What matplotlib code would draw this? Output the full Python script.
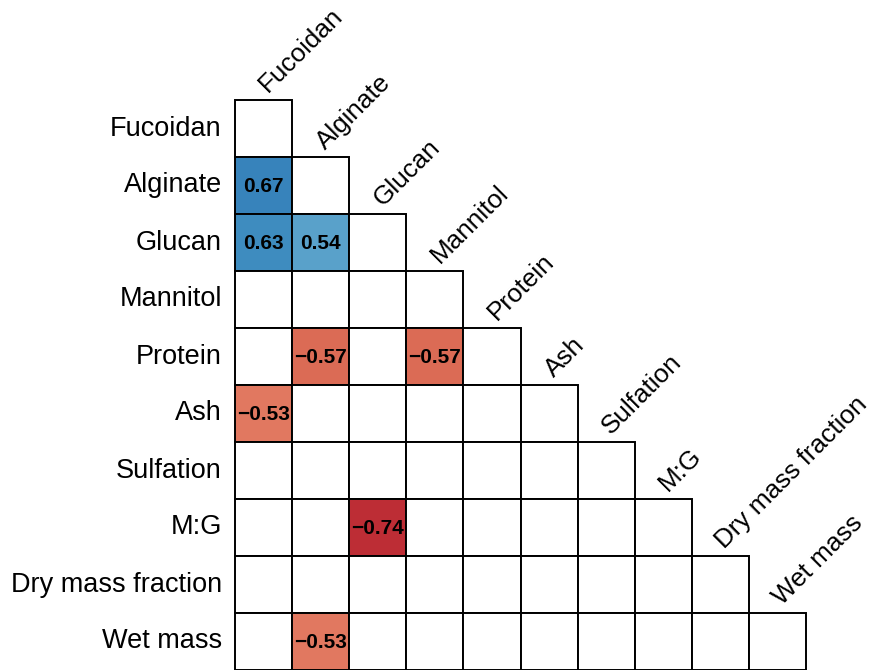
import numpy as np
import matplotlib.pyplot as plt
from matplotlib.colors import LinearSegmentedColormap, Normalize
from matplotlib.patches import Rectangle

variables = ['Fucoidan', 'Alginate', 'Glucan', 'Mannitol', 'Protein', 'Ash',
             'Sulfation', 'M:G', 'Dry mass fraction', 'Wet mass']

# significant correlations only (row variable, column variable, r)
sig_rows = ['Alginate', 'Glucan', 'Glucan', 'Protein', 'Protein', 'Ash', 'M:G', 'Wet mass']
sig_cols = ['Fucoidan', 'Fucoidan', 'Alginate', 'Alginate', 'Mannitol', 'Fucoidan', 'Glucan', 'Alginate']
sig_vals = [0.67, 0.63, 0.54, -0.57, -0.57, -0.53, -0.74, -0.53]

# corrplot RdBu palette
palette = ['#67001F', '#B2182B', '#D6604D', '#F4A582', '#FDDBC7', '#FFFFFF',
           '#D1E5F0', '#92C5DE', '#4393C3', '#2166AC', '#053061']
cmap = LinearSegmentedColormap.from_list('corr', palette)
norm = Normalize(-1, 1)

n = len(variables)
vals = {}
for r, c, v in zip(sig_rows, sig_cols, sig_vals):
    vals[(variables.index(r), variables.index(c))] = v

plt.rcParams['font.family'] = ['Liberation Sans', 'DejaVu Sans']

fig = plt.figure(figsize=(8.74, 6.70), dpi=100)
ax = fig.add_axes([235 / 874, 0, 571 / 874, 570 / 670])
ax.set_xlim(0, n)
ax.set_ylim(n, 0)
ax.axis('off')

for i in range(n):
    for j in range(i + 1):
        v = vals.get((i, j))
        fc = 'white' if v is None else cmap(norm(v))
        ax.add_patch(Rectangle((j, i), 1, 1, facecolor=fc, edgecolor='black',
                               linewidth=1.4, clip_on=False))
        if v is not None:
            ax.text(j + 0.5, i + 0.52, f'{v:.2f}'.replace('-', '\u2212'),
                    ha='center', va='center', fontsize=15, fontweight='bold',
                    color='black')

for i, name in enumerate(variables):
    ax.text(-0.23, i + 0.5, name, ha='right', va='center', fontsize=19.5,
            clip_on=False)
    ax.text(i + 0.58, i - 0.12, name, ha='left', va='baseline', rotation=45,
            rotation_mode='anchor', fontsize=18.8, clip_on=False)

fig.savefig('out.png', dpi=100)
